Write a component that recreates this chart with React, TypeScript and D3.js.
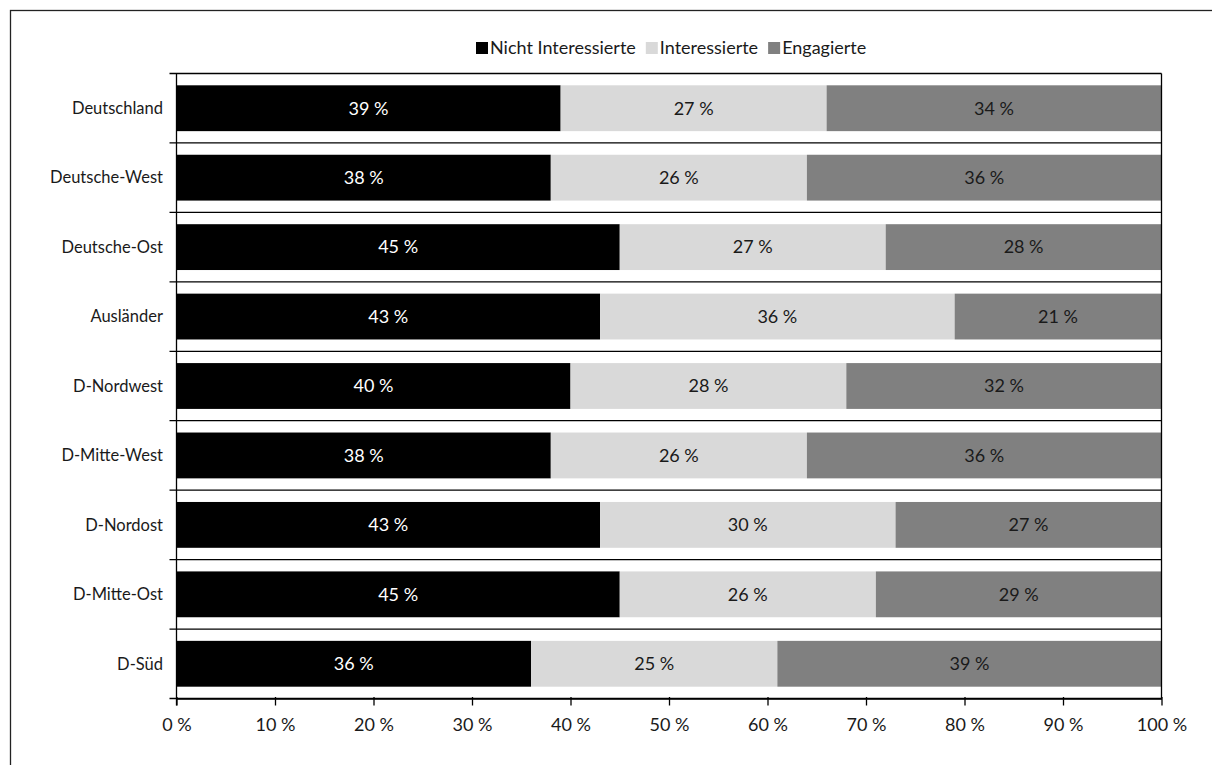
import React, { useEffect, useRef } from "react";
import * as d3 from "d3";

const categories = ["Deutschland", "Deutsche-West", "Deutsche-Ost", "Ausländer", "D-Nordwest", "D-Mitte-West", "D-Nordost", "D-Mitte-Ost", "D-Süd"];
const seriesNames = ["Nicht Interessierte", "Interessierte", "Engagierte"];
const nichtInteressierte = [39, 38, 45, 43, 40, 38, 43, 45, 36];
const interessierte = [27, 26, 27, 36, 28, 26, 30, 26, 25];
const engagierte = [34, 36, 28, 21, 32, 36, 27, 29, 39];
const xTicks = [0, 10, 20, 30, 40, 50, 60, 70, 80, 90, 100];

const colors = ["#000000", "#d9d9d9", "#808080"];
const labelColors = ["#ffffff", "#1a1a1a", "#1a1a1a"];
const FONT = "Lato, sans-serif";
const FS = 18;
const FS_CAT = 16.5;

export default function App() {
  const ref = useRef<SVGSVGElement>(null);
  useEffect(() => {
    const svg = d3.select(ref.current);
    svg.selectAll("*").remove();
    const m = { left: 176.5, right: 1161.5, top: 73.5, bottom: 698.5 };

    svg.append("rect").attr("x", 10.5).attr("y", 10.5).attr("width", 1300).attr("height", 1000)
      .attr("fill", "white").attr("stroke", "#222").attr("stroke-width", 1.3);

    const x = d3.scaleLinear().domain([0, 100]).range([m.left, m.right]);
    const y = d3.scaleBand().domain(categories).range([m.top, m.bottom]).paddingInner(0.34).paddingOuter(0.17);
    const bandStep = y.step();

    const series = [nichtInteressierte, interessierte, engagierte];
    const rows = categories.map((c, i) => ({ c, v: series.map(s => s[i]) }));

    const g = svg.append("g");
    rows.forEach(r => {
      let acc = 0;
      r.v.forEach((v, si) => {
        const x0 = x(acc), x1 = x(acc + v);
        g.append("rect").attr("x", x0).attr("y", y(r.c)!).attr("width", x1 - x0).attr("height", y.bandwidth())
          .attr("fill", colors[si]);
        g.append("text").attr("x", (x0 + x1) / 2).attr("y", y(r.c)! + y.bandwidth() / 2)
          .attr("dy", "0.35em").attr("text-anchor", "middle").attr("fill", labelColors[si])
          .attr("font-family", FONT).attr("font-size", FS).text(`${v} %`);
        acc += v;
      });
    });

    const boundaries = d3.range(categories.length + 1).map(i => m.top + i * bandStep);
    svg.append("g").selectAll("line").data(boundaries).join("line")
      .attr("x1", m.left - 7).attr("x2", m.right).attr("y1", d => d).attr("y2", d => d)
      .attr("stroke", "#000").attr("stroke-width", 1.3);

    svg.append("line").attr("x1", m.left).attr("x2", m.left).attr("y1", m.top).attr("y2", m.bottom + 7)
      .attr("stroke", "#000").attr("stroke-width", 1.3);
    svg.append("line").attr("x1", m.right).attr("x2", m.right).attr("y1", m.top).attr("y2", m.bottom)
      .attr("stroke", "#000").attr("stroke-width", 1.3);

    const ax = svg.append("g").attr("transform", `translate(0,${m.bottom})`)
      .call(d3.axisBottom(x).tickValues(xTicks).tickSize(7).tickSizeOuter(0).tickPadding(13).tickFormat(d => `${d} %`));
    ax.select(".domain").attr("stroke", "#000").attr("stroke-width", 1.3);
    ax.selectAll(".tick line").attr("stroke", "#000").attr("stroke-width", 1.3).attr("y1", -1.5);
    ax.selectAll(".tick text").attr("font-family", FONT).attr("font-size", FS).attr("fill", "#1a1a1a");

    svg.append("g").selectAll("text").data(categories).join("text")
      .attr("x", 163).attr("y", d => y(d)! + y.bandwidth() / 2).attr("dy", "0.35em")
      .attr("text-anchor", "end").attr("font-family", FONT).attr("font-size", FS_CAT).attr("fill", "#1a1a1a")
      .text(d => d);

    const lg = svg.append("g");
    let lx = 476;
    seriesNames.forEach((n, i) => {
      lg.append("rect").attr("x", lx).attr("y", 42).attr("width", 12).attr("height", 12).attr("fill", colors[i]);
      const t = lg.append("text").attr("x", lx + 14).attr("y", 48).attr("dy", "0.35em")
        .attr("font-family", FONT).attr("font-size", FS).attr("fill", "#1a1a1a").text(n);
      const w = (t.node() as SVGTextElement).getComputedTextLength();
      lx += 14 + w + 10;
    });
  }, []);
  return (
    <svg ref={ref} width={1212} height={765} style={{ position: "absolute", left: 0, top: 0, background: "white" }} />
  );
}
